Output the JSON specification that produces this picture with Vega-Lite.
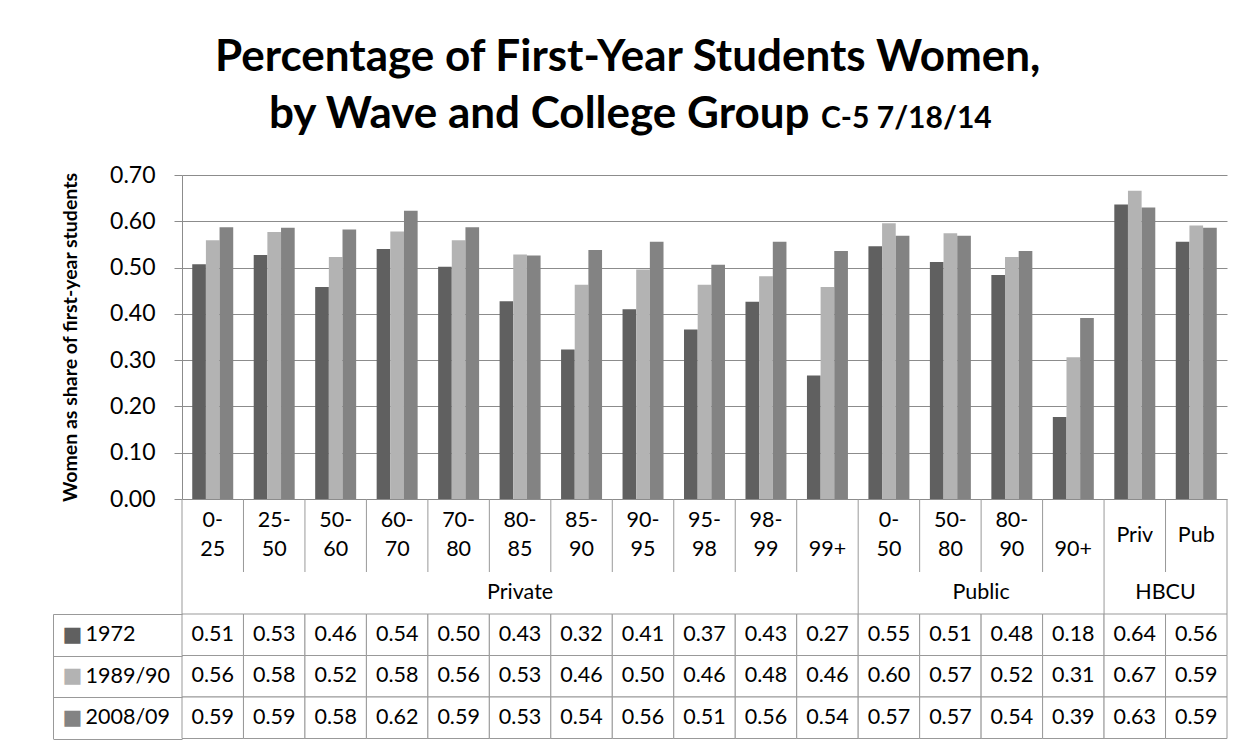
{
  "$schema": "https://vega.github.io/schema/vega-lite/v6.json",
  "background": "white",
  "padding": {"left": 52, "top": 36, "right": 20, "bottom": 5},
  "config": {
    "view": {"stroke": null},
    "font": "Lato",
    "text": {"font": "Lato", "color": "#000000"}
  },
  "title": {
    "text": "Percentage of First-Year Students Women,",
    "fontSize": 44,
    "fontWeight": "bold",
    "font": "Lato",
    "color": "#000000",
    "anchor": "start",
    "align": "left",
    "frame": "group",
    "dx": 33,
    "offset": 13
  },
  "datasets": {
    "cats": [
      {"id": "Private 0-25", "lab": "0-\n25", "g": "Private", "1972": 0.507, "1989/90": 0.559, "2008/09": 0.587},
      {"id": "Private 25-50", "lab": "25-\n50", "g": "Private", "1972": 0.527, "1989/90": 0.577, "2008/09": 0.586},
      {"id": "Private 50-60", "lab": "50-\n60", "g": "Private", "1972": 0.458, "1989/90": 0.523, "2008/09": 0.582},
      {"id": "Private 60-70", "lab": "60-\n70", "g": "Private", "1972": 0.540, "1989/90": 0.578, "2008/09": 0.623},
      {"id": "Private 70-80", "lab": "70-\n80", "g": "Private", "1972": 0.502, "1989/90": 0.559, "2008/09": 0.587},
      {"id": "Private 80-85", "lab": "80-\n85", "g": "Private", "1972": 0.427, "1989/90": 0.528, "2008/09": 0.526},
      {"id": "Private 85-90", "lab": "85-\n90", "g": "Private", "1972": 0.323, "1989/90": 0.463, "2008/09": 0.538},
      {"id": "Private 90-95", "lab": "90-\n95", "g": "Private", "1972": 0.410, "1989/90": 0.496, "2008/09": 0.556},
      {"id": "Private 95-98", "lab": "95-\n98", "g": "Private", "1972": 0.366, "1989/90": 0.463, "2008/09": 0.506},
      {"id": "Private 98-99", "lab": "98-\n99", "g": "Private", "1972": 0.426, "1989/90": 0.481, "2008/09": 0.556},
      {"id": "Private 99+", "lab": " \n99+", "g": "Private", "1972": 0.267, "1989/90": 0.458, "2008/09": 0.536},
      {"id": "Public 0-50", "lab": "0-\n50", "g": "Public", "1972": 0.546, "1989/90": 0.596, "2008/09": 0.569},
      {"id": "Public 50-80", "lab": "50-\n80", "g": "Public", "1972": 0.512, "1989/90": 0.574, "2008/09": 0.569},
      {"id": "Public 80-90", "lab": "80-\n90", "g": "Public", "1972": 0.484, "1989/90": 0.523, "2008/09": 0.536},
      {"id": "Public 90+", "lab": " \n90+", "g": "Public", "1972": 0.177, "1989/90": 0.306, "2008/09": 0.391},
      {"id": "HBCU Priv", "lab": "Priv", "g": "HBCU", "1972": 0.636, "1989/90": 0.666, "2008/09": 0.630},
      {"id": "HBCU Pub", "lab": "Pub", "g": "HBCU", "1972": 0.556, "1989/90": 0.591, "2008/09": 0.586}
    ]
  },
  "vconcat": [
    {
      "width": 1045,
      "height": 324,
      "title": {"text": "by Wave and College Group", "fontSize": 44, "fontWeight": "bold", "font": "Lato", "color": "#000000", "anchor": "start", "align": "left", "frame": "group", "dx": 87, "offset": 27},
      "data": {"name": "cats"},
      "transform": [{"fold": ["1972", "1989/90", "2008/09"], "as": ["s", "v"]}],
      "mark": {"type": "bar"},
      "encoding": {
        "x": {
          "field": "id", "type": "nominal", "axis": null,
          "scale": {"domain": ["Private 0-25","Private 25-50","Private 50-60","Private 60-70","Private 70-80","Private 80-85","Private 85-90","Private 90-95","Private 95-98","Private 98-99","Private 99+","Public 0-50","Public 50-80","Public 80-90","Public 90+","HBCU Priv","HBCU Pub"], "paddingInner": 0, "paddingOuter": 0}
        },
        "xOffset": {"field": "s", "type": "nominal", "scale": {"domain": ["1972", "1989/90", "2008/09"], "paddingInner": 0, "paddingOuter": 0.75}},
        "y": {
          "field": "v", "type": "quantitative",
          "scale": {"domain": [0, 0.7], "nice": false, "zero": true},
          "axis": {
            "values": [0, 0.1, 0.2, 0.3, 0.4, 0.5, 0.6, 0.7],
            "format": ".2f",
            "labelFont": "Lato", "labelFontSize": 23, "labelColor": "#000000", "labelPadding": 19,
            "tickSize": 8, "tickColor": "#8c8c8c", "domainColor": "#8c8c8c", "gridColor": "#8c8c8c",
            "grid": true,
            "title": "Women as share of first-year students",
            "titleFont": "Lato", "titleFontSize": 19.5, "titleFontWeight": "bold", "titleColor": "#000000", "titlePadding": 29
          }
        },
        "color": {"field": "s", "type": "nominal", "scale": {"domain": ["1972", "1989/90", "2008/09"], "range": ["#606060", "#b3b3b3", "#838383"]}, "legend": null}
      }
    },
    {
      "width": 1045,
      "height": 73,
      "title": {"text": "C-5 7/18/14", "fontSize": 30, "fontWeight": "bold", "font": "Lato", "color": "#000000", "anchor": "start", "align": "left", "frame": "group", "dx": 639, "offset": 365},
      "data": {"name": "cats"},
      "encoding": {
        "x": {
          "field": "id", "type": "nominal", "axis": null,
          "scale": {"domain": ["Private 0-25","Private 25-50","Private 50-60","Private 60-70","Private 70-80","Private 80-85","Private 85-90","Private 90-95","Private 95-98","Private 98-99","Private 99+","Public 0-50","Public 50-80","Public 80-90","Public 90+","HBCU Priv","HBCU Pub"], "paddingInner": 0, "paddingOuter": 0}
        }
      },
      "layer": [
        {"mark": {"type": "rule", "color": "#999999"}, "encoding": {"x": {"field": "id", "type": "nominal", "bandPosition": 0}}},
        {"transform": [{"filter": "datum.id === 'HBCU Pub'"}], "mark": {"type": "rule", "color": "#999999"}, "encoding": {"x": {"field": "id", "type": "nominal", "bandPosition": 1}}},
        {"transform": [{"filter": "datum.g !== 'HBCU'"}], "mark": {"type": "text", "fontSize": 21.5, "lineBreak": "\n", "lineHeight": 29, "baseline": "middle", "align": "center", "dy": -14.5, "color": "#000000"}, "encoding": {"text": {"field": "lab"}}},
        {"transform": [{"filter": "datum.g === 'HBCU'"}], "mark": {"type": "text", "fontSize": 21.5, "baseline": "middle", "align": "center", "color": "#000000"}, "encoding": {"text": {"field": "lab"}}}
      ]
    },
    {
      "width": 1045,
      "height": 42,
      "data": {"name": "cats"},
      "encoding": {
        "x": {
          "field": "id", "type": "nominal", "axis": null,
          "scale": {"domain": ["Private 0-25","Private 25-50","Private 50-60","Private 60-70","Private 70-80","Private 80-85","Private 85-90","Private 90-95","Private 95-98","Private 98-99","Private 99+","Public 0-50","Public 50-80","Public 80-90","Public 90+","HBCU Priv","HBCU Pub"], "paddingInner": 0, "paddingOuter": 0}
        }
      },
      "layer": [
        {"transform": [{"filter": "datum.id === 'Private 0-25' || datum.id === 'Public 0-50' || datum.id === 'HBCU Priv'"}], "mark": {"type": "rule", "color": "#999999"}, "encoding": {"x": {"field": "id", "type": "nominal", "bandPosition": 0}}},
        {"transform": [{"filter": "datum.id === 'HBCU Pub'"}], "mark": {"type": "rule", "color": "#999999"}, "encoding": {"x": {"field": "id", "type": "nominal", "bandPosition": 1}}},
        {"transform": [{"filter": "datum.id === 'Private 80-85'"}], "mark": {"type": "text", "fontSize": 21.5, "baseline": "middle", "align": "center", "color": "#000000"}, "encoding": {"text": {"field": "g"}}},
        {"transform": [{"filter": "datum.id === 'Public 80-90' || datum.id === 'HBCU Pub'"}], "mark": {"type": "text", "fontSize": 21.5, "baseline": "middle", "align": "center", "color": "#000000"}, "encoding": {"x": {"field": "id", "type": "nominal", "bandPosition": 0}, "text": {"field": "g"}}}
      ]
    },
    {
      "width": 1045,
      "height": 124.5,
      "data": {"name": "cats"},
      "transform": [{"fold": ["1972", "1989/90", "2008/09"], "as": ["s", "v"]}],
      "encoding": {
        "x": {
          "field": "id", "type": "nominal", "axis": null,
          "scale": {"domain": ["Private 0-25","Private 25-50","Private 50-60","Private 60-70","Private 70-80","Private 80-85","Private 85-90","Private 90-95","Private 95-98","Private 98-99","Private 99+","Public 0-50","Public 50-80","Public 80-90","Public 90+","HBCU Priv","HBCU Pub"], "paddingInner": 0, "paddingOuter": 0}
        }
      },
      "layer": [
        {
          "mark": {"type": "rect", "fill": "#ffffff", "stroke": "#999999", "strokeWidth": 1},
          "encoding": {
            "y": {
              "field": "s", "type": "nominal",
              "scale": {"domain": ["1972", "1989/90", "2008/09"], "paddingInner": 0, "paddingOuter": 0},
              "axis": {
                "orient": "left", "offset": 129, "title": null,
                "tickSize": -129, "tickBand": "extent", "tickColor": "#999999", "domainColor": "#999999",
                "labelAlign": "left", "labelPadding": 97, "labelFont": "Lato", "labelFontSize": 21.5, "labelColor": "#000000", "labelBaseline": "middle"
              }
            }
          }
        },
        {
          "mark": {"type": "text", "fontSize": 21.5, "baseline": "middle", "align": "center", "color": "#000000"},
          "encoding": {
            "y": {
              "field": "s", "type": "nominal",
              "axis": {
                "orient": "left", "offset": 129, "title": null, "ticks": false, "domain": false,
                "labelExpr": "'■'", "labelAlign": "left", "labelPadding": -9, "labelFont": "DejaVu Sans", "labelFontSize": 21, "labelBaseline": "middle",
                "labelColor": {"condition": [{"test": "datum.value === '1972'", "value": "#606060"}, {"test": "datum.value === '1989/90'", "value": "#b3b3b3"}], "value": "#838383"}
              }
            },
            "text": {"field": "v", "type": "quantitative", "format": ".2f"}
          }
        }
      ],
      "resolve": {"axis": {"y": "independent"}}
    }
  ],
  "spacing": 0,
  "bounds": "flush"
}
